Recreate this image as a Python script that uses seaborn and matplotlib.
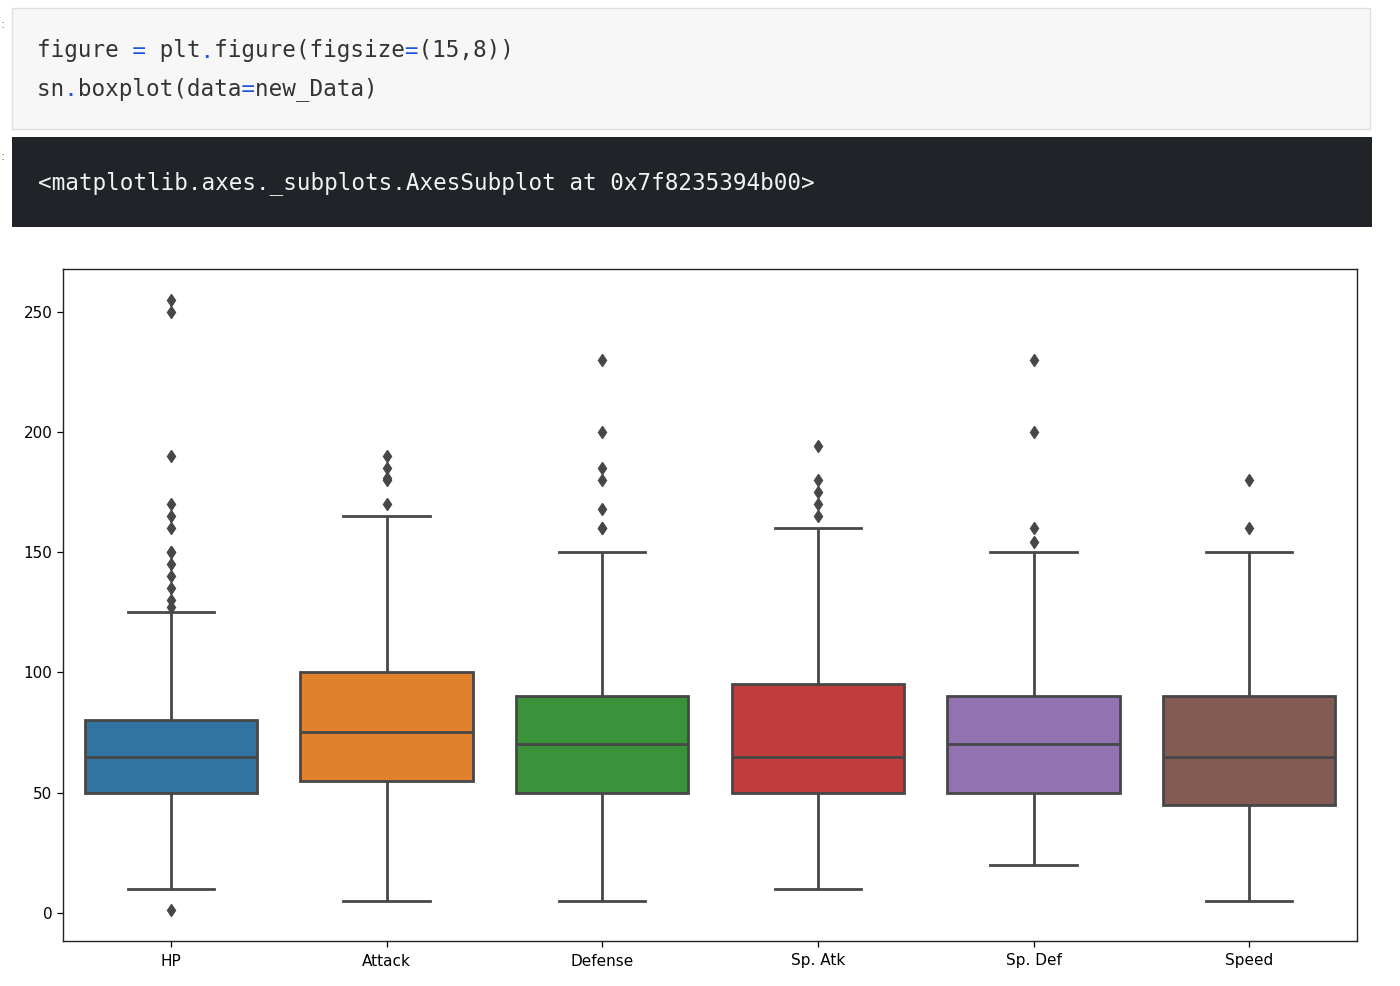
import pandas as pd
import matplotlib
matplotlib.use("Agg")
import matplotlib.pyplot as plt
import seaborn as sns
from matplotlib.patches import Rectangle

# values (Pokemon base stats)
stats = ["HP", "Attack", "Defense", "Sp. Atk", "Sp. Def", "Speed"]
q1 = [50, 55, 50, 50, 50, 45]
median = [65, 75, 70, 65, 70, 65]
q3 = [80, 100, 90, 95, 90, 90]
whisker_low = [10, 5, 5, 10, 20, 5]
whisker_high = [125, 165, 150, 160, 150, 150]
outliers = [
    [1, 127, 130, 135, 140, 145, 150, 150, 160, 165, 170, 190, 250, 255],
    [170, 180, 181, 185, 190],
    [160, 160, 168, 180, 185, 200, 230],
    [165, 170, 175, 180, 194],
    [154, 160, 200, 230],
    [160, 180],
]

code_lines = ["figure = plt.figure(figsize=(15,8))", "sn.boxplot(data=new_Data)"]
output_line = "<matplotlib.axes._subplots.AxesSubplot at 0x7f8235394b00>"

# sample per stat that reproduces the quartiles / whiskers / fliers
rows = []
for i, name in enumerate(stats):
    vals = outliers[i] + [whisker_low[i], whisker_high[i]]
    vals += [q1[i]] * 100 + [median[i]] * 100 + [q3[i]] * 100
    rows += [(name, v) for v in vals]
new_Data = pd.DataFrame(rows, columns=["stat", "value"])

W, H = 1400, 986
fig = plt.figure(figsize=(W / 100, H / 100), dpi=100)


def fx(px):
    return px / W


def fy(py):
    return 1 - py / H


# code cell
fig.patches.append(Rectangle((fx(12), fy(129)), fx(1370) - fx(12), fy(8) - fy(129),
                             transform=fig.transFigure, facecolor="#f7f7f7",
                             edgecolor="#dedede", linewidth=1))
# output cell
fig.patches.append(Rectangle((fx(12), fy(227)), fx(1372) - fx(12), fy(137) - fy(227),
                             transform=fig.transFigure, facecolor="#202327",
                             edgecolor="none"))
fig.text(fx(1), fy(24), ":", fontsize=9, color="#777777", va="center")
fig.text(fx(1), fy(156), ":", fontsize=9, color="#777777", va="center")

mono = "DejaVu Sans Mono"
ops = "=."
for line, ypos in zip(code_lines, [51, 89]):
    plain = "".join(" " if c in ops else c for c in line)
    blue = "".join(c if c in ops else " " for c in line)
    fig.text(fx(37), fy(ypos), plain, family=mono, fontsize=16.3, color="#333333", va="center")
    fig.text(fx(37), fy(ypos), blue, family=mono, fontsize=16.3, color="#1a56db", va="center")

fig.text(fx(38), fy(183), output_line, family=mono, fontsize=16.3, color="#f2f2f2", va="center")

# the boxplot
ax = fig.add_axes([fx(63), fy(941), fx(1357) - fx(63), fy(269) - fy(941)])
gray = "#474747"
sns.boxplot(data=new_Data, x="stat", y="value", hue="stat", palette="tab10",
            saturation=0.75, legend=False, linewidth=2.0, linecolor=gray,
            fliersize=6.5, ax=ax,
            flierprops=dict(marker="d", markerfacecolor=gray, markeredgecolor=gray))
ax.set_xlabel("")
ax.set_ylabel("")
ax.set_xlim(-0.5, 5.5)
ax.set_yticks([0, 50, 100, 150, 200, 250])
ax.tick_params(labelsize=11, length=4, width=0.9)
ax.tick_params(axis="x", pad=5)
for s in ax.spines.values():
    s.set_linewidth(1.0)
    s.set_color("#222222")

fig.savefig("out.png", dpi=100)
